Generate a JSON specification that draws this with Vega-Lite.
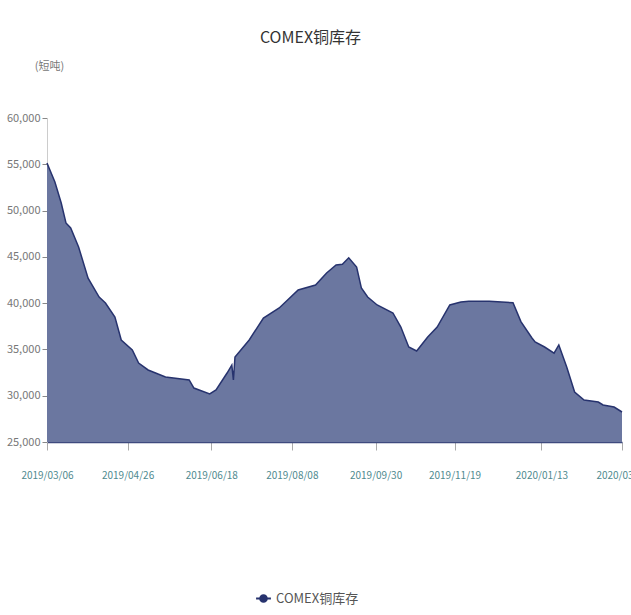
{
  "$schema": "https://vega.github.io/schema/vega-lite/v6.json",
  "width": 575,
  "height": 324,
  "autosize": "none",
  "padding": {"left": 47, "top": 118, "right": 9, "bottom": 173},
  "background": "#ffffff",
  "title": {
    "text": "COMEX铜库存",
    "anchor": "middle",
    "dx": -24,
    "offset": 14,
    "fontSize": 16,
    "fontWeight": "normal",
    "color": "#333333",
    "font": "Liberation Sans Narrow, Noto Sans CJK SC, sans-serif"
  },
  "config": {
    "view": {"stroke": null},
    "font": "Liberation Sans Narrow, Noto Sans CJK SC, sans-serif"
  },
  "data": {
    "values": [
      {"date": "2019-03-06", "stock": 55140},
      {"date": "2019-03-11", "stock": 53090},
      {"date": "2019-03-15", "stock": 50820},
      {"date": "2019-03-18", "stock": 48660},
      {"date": "2019-03-21", "stock": 48120},
      {"date": "2019-03-26", "stock": 46065},
      {"date": "2019-04-01", "stock": 42700},
      {"date": "2019-04-08", "stock": 40660},
      {"date": "2019-04-12", "stock": 40015},
      {"date": "2019-04-18", "stock": 38500},
      {"date": "2019-04-22", "stock": 36020},
      {"date": "2019-04-29", "stock": 34940},
      {"date": "2019-05-03", "stock": 33530},
      {"date": "2019-05-09", "stock": 32780},
      {"date": "2019-05-20", "stock": 32020},
      {"date": "2019-06-04", "stock": 31700},
      {"date": "2019-06-07", "stock": 30830},
      {"date": "2019-06-17", "stock": 30185},
      {"date": "2019-06-21", "stock": 30617},
      {"date": "2019-06-28", "stock": 32450},
      {"date": "2019-07-01", "stock": 33300},
      {"date": "2019-07-02", "stock": 31700},
      {"date": "2019-07-03", "stock": 34180},
      {"date": "2019-07-12", "stock": 36020},
      {"date": "2019-07-21", "stock": 38395},
      {"date": "2019-07-31", "stock": 39475},
      {"date": "2019-08-12", "stock": 41420},
      {"date": "2019-08-23", "stock": 41960},
      {"date": "2019-08-30", "stock": 43256},
      {"date": "2019-09-05", "stock": 44120},
      {"date": "2019-09-09", "stock": 44200},
      {"date": "2019-09-13", "stock": 44900},
      {"date": "2019-09-18", "stock": 43900},
      {"date": "2019-09-21", "stock": 41636},
      {"date": "2019-09-25", "stock": 40660},
      {"date": "2019-10-01", "stock": 39800},
      {"date": "2019-10-11", "stock": 38935},
      {"date": "2019-10-16", "stock": 37420},
      {"date": "2019-10-21", "stock": 35260},
      {"date": "2019-10-26", "stock": 34830},
      {"date": "2019-11-02", "stock": 36343},
      {"date": "2019-11-08", "stock": 37420},
      {"date": "2019-11-16", "stock": 39800},
      {"date": "2019-11-23", "stock": 40120},
      {"date": "2019-11-28", "stock": 40200},
      {"date": "2019-12-11", "stock": 40200},
      {"date": "2019-12-26", "stock": 40050},
      {"date": "2019-12-31", "stock": 38000},
      {"date": "2020-01-07", "stock": 36230},
      {"date": "2020-01-09", "stock": 35800},
      {"date": "2020-01-15", "stock": 35260},
      {"date": "2020-01-21", "stock": 34600},
      {"date": "2020-01-24", "stock": 35480},
      {"date": "2020-01-29", "stock": 33100},
      {"date": "2020-02-03", "stock": 30400},
      {"date": "2020-02-09", "stock": 29537},
      {"date": "2020-02-18", "stock": 29320},
      {"date": "2020-02-21", "stock": 29000},
      {"date": "2020-02-28", "stock": 28780},
      {"date": "2020-03-04", "stock": 28240}
    ]
  },
  "encoding": {
    "x": {
      "field": "date",
      "type": "temporal",
      "scale": {
        "type": "utc",
        "domain": [
          {"year": 2019, "month": 3, "date": 6, "utc": true},
          {"year": 2020, "month": 3, "date": 4, "utc": true}
        ]
      },
      "axis": {
        "title": null,
        "labelExpr": "utcFormat(datum.value, '%Y/%m/%d')",
        "values": [
          {"year": 2019, "month": 3, "date": 6, "utc": true},
          {"year": 2019, "month": 4, "date": 26, "utc": true},
          {"year": 2019, "month": 6, "date": 18, "utc": true},
          {"year": 2019, "month": 8, "date": 8, "utc": true},
          {"year": 2019, "month": 9, "date": 30, "utc": true},
          {"year": 2019, "month": 11, "date": 19, "utc": true},
          {"year": 2020, "month": 1, "date": 13, "utc": true},
          {"year": 2020, "month": 3, "date": 4, "utc": true}
        ],
        "labelAngle": 0,
        "labelFontSize": 10,
        "labelColor": "#4f8a8f",
        "labelPadding": 20,
        "labelOverlap": false,
        "labelFlush": false,
        "tickSize": 8,
        "tickColor": "#aaaaaa",
        "domainColor": "#3e4a7e",
        "domainWidth": 1.5,
        "grid": false
      }
    },
    "y": {
      "field": "stock",
      "type": "quantitative",
      "scale": {"domain": [25000, 60000], "nice": false, "zero": false},
      "axis": {
        "title": "(短吨)",
        "titleAngle": 0,
        "titleAlign": "center",
        "titleBaseline": "middle",
        "titleX": 2,
        "titleY": -52,
        "titleFontSize": 11,
        "titleFontWeight": "normal",
        "titleColor": "#777777",
        "values": [25000, 30000, 35000, 40000, 45000, 50000, 55000, 60000],
        "format": ",d",
        "labelFontSize": 11,
        "labelColor": "#777777",
        "labelPadding": 2,
        "tickSize": 5,
        "tickColor": "#888888",
        "domainColor": "#cccccc",
        "grid": false
      }
    }
  },
  "layer": [
    {
      "mark": {"type": "area", "color": "#6b77a0", "opacity": 1, "interpolate": "linear", "clip": true},
      "encoding": {"y2": {"datum": 25000}}
    },
    {
      "mark": {"type": "line", "strokeWidth": 1.5, "interpolate": "linear"},
      "encoding": {
        "stroke": {
          "datum": "COMEX铜库存",
          "scale": {"range": ["#27336e"]},
          "legend": {
            "title": null,
            "orient": "none",
            "legendX": 208,
            "legendY": 472,
            "symbolType": "M-1,0L1,0M-0.45,0A0.45,0.45 0 1,1 0.45,0A0.45,0.45 0 1,1 -0.45,0Z",
            "symbolFillColor": "#27336e",
            "symbolStrokeColor": "#27336e",
            "symbolStrokeWidth": 2,
            "symbolSize": 220,
            "labelFontSize": 13,
            "labelColor": "#555555",
            "labelOffset": 4
          }
        }
      }
    }
  ]
}
